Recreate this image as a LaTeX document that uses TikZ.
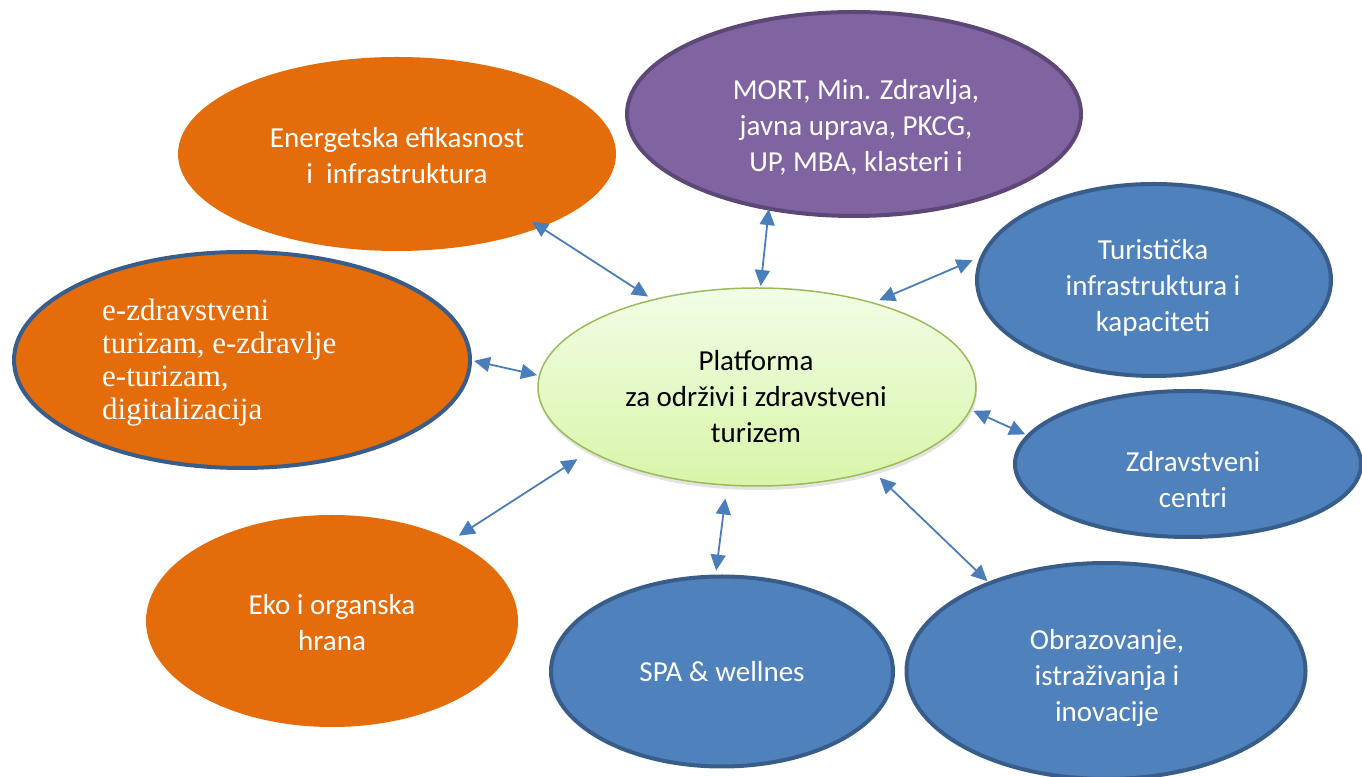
\documentclass[tikz,border=0pt]{standalone}
\usepackage{fontspec}
\setmainfont{Carlito}
\newfontfamily\serifcam{Liberation Serif}
\usetikzlibrary{shapes.geometric,arrows.meta,shadows}
\definecolor{orng}{HTML}{E46C0A}
\definecolor{purp}{HTML}{8064A2}
\definecolor{purpd}{HTML}{5C4776}
\definecolor{blu}{HTML}{4F81BD}
\definecolor{blud}{HTML}{385D8A}
\definecolor{grn}{HTML}{9BBB59}
\definecolor{grntop}{HTML}{F2FDE6}
\definecolor{grnbot}{HTML}{D8F5A8}
\definecolor{arrc}{HTML}{4A7EBB}
\begin{document}
\begin{tikzpicture}[x=1pt,y=1pt,
  oval/.style={ellipse, inner sep=0pt, outer sep=0pt},
  orangeoval/.style={oval, fill=orng},
  blueoval/.style={oval, fill=blu, draw=blud, line width=4pt},
  lbl/.style={text=white, align=center, font=\fontsize{29}{36}\selectfont, inner sep=0pt},
  link/.style={arrc, line width=1.8pt, {Triangle[length=16pt,width=15pt]}-{Triangle[length=16pt,width=15pt]}},
]
\useasboundingbox (0,0) rectangle (1362,776);

% ellipses
\node[orangeoval, minimum width=438pt, minimum height=194pt] (ener) at (397,622) {};
\node[oval, fill=purp, draw=purpd, line width=4pt, minimum width=454pt, minimum height=204pt] (mort) at (854,662) {};
\node[blueoval, minimum width=354pt, minimum height=192pt] (turi) at (1154,496) {};
\node[orangeoval, draw=blud, line width=4pt, minimum width=456pt, minimum height=216pt] (ezdr) at (242,416) {};
\node[oval, draw=grn, line width=1.5pt, top color=grntop, bottom color=grnbot,
      drop shadow={opacity=0.22, shadow xshift=1pt, shadow yshift=-4pt},
      minimum width=438pt, minimum height=198pt] (plat) at (757,389) {};
\node[blueoval, minimum width=346pt, minimum height=146pt] (zdra) at (1188,312) {};
\node[orangeoval, minimum width=372pt, minimum height=212pt] (eko) at (332,155) {};
\node[blueoval, minimum width=342pt, minimum height=190pt] (spa) at (722,104.5) {};
\node[blueoval, minimum width=399pt, minimum height=216pt] (obra) at (1106,105) {};

% labels
\node[lbl] (enerT) at (397,620.5) {Energetska efikasnost\\i\ \ infrastruktura};
\node[lbl] (mortT) at (856,649) {MORT, Min. Zdravlja,\\javna uprava, PKCG,\\UP, MBA, klasteri i};
\node[lbl] (turiT) at (1153,488) {Turistička\\infrastruktura i\\kapaciteti};
\node[lbl, align=left, anchor=west, font=\serifcam\fontsize{31}{33}\selectfont] (ezdrT) at (102,413) {e-zdravstveni\\turizam, e-zdravlje\\e-turizam,\\digitalizacija};
\node[lbl, text=black] (platT) at (756,379) {Platforma\\za održivi i zdravstveni\\turizem};
\node[lbl] (zdraT) at (1193,296) {Zdravstveni\\centri};
\node[lbl] (ekoT) at (332,153.5) {Eko i organska\\hrana};
\node[lbl] (spaT) at (722,104) {SPA \& wellnes};
\node[lbl] (obraT) at (1107,98) {Obrazovanje,\\istraživanja i\\inovacije};

% connectors
\draw[link, shorten <=-10.3pt, shorten >=6pt] (ener.-27.4) -- (plat.140.1);
\draw[link, shorten <=0.5pt, shorten >=2pt] (mort.-132.5) -- (plat.88.3);
\draw[link, shorten <=11pt, shorten >=7pt] (turi.172.5) -- (plat.36.8);
\draw[link, shorten <=4pt, shorten >=2.5pt] (ezdr.-0.5) -- (plat.177.4);
\draw[link, shorten <=3.3pt, shorten >=3.5pt] (plat.-6.3) -- (zdra.170.7);
\draw[link, shorten <=15pt, shorten >=8pt] (plat.-159.7) -- (eko.34.3);
\draw[link, shorten <=13.5pt, shorten >=6pt] (plat.-107) -- (spa.94);
\draw[link, shorten <=9.6pt, shorten >=3pt] (plat.-36.2) -- (obra.143.7);
\end{tikzpicture}
\end{document}
